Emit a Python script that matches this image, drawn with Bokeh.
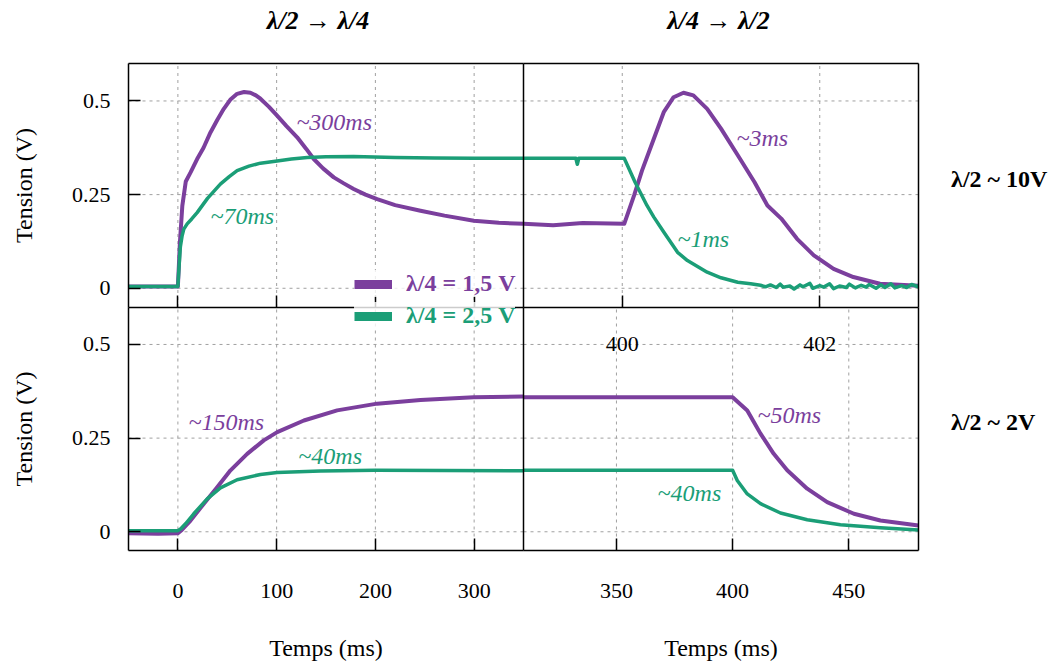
from bokeh.plotting import figure
from bokeh.models import Range1d, LinearAxis, FixedTicker, Label, Legend, LegendItem
from bokeh.embed import file_html
from bokeh.resources import INLINE

# ---------------- data ----------------
# top-left panel  (lambda/2 -> lambda/4, lambda/2 ~ 10 V), time in ms
tl_t_purple = [-50, -10, 0, 1, 2, 4.5, 8, 13, 19.5, 26, 33, 40, 46.5, 53, 60, 67, 73.5,
               79, 83.6, 92, 100.5, 110, 120.8, 130, 137.6, 147, 157.9, 168, 178, 190,
               201.8, 220, 245.7, 270, 299.7, 325, 350]
tl_v_purple = [0.005, 0.005, 0.005, 0.06, 0.12, 0.22, 0.285, 0.31, 0.345, 0.375, 0.416,
               0.45, 0.479, 0.503, 0.519, 0.524, 0.522, 0.515, 0.506, 0.485, 0.461, 0.433,
               0.403, 0.372, 0.345, 0.32, 0.296, 0.28, 0.265, 0.25, 0.238, 0.222, 0.207,
               0.194, 0.18, 0.175, 0.172]
tl_t_green = [-50, 0, 1, 2.5, 4.3, 6, 9.4, 14, 19.5, 30, 43, 52, 60, 72, 83.6, 100.5, 115,
              131, 150, 178, 220, 260, 300, 350]
tl_v_green = [0.005, 0.005, 0.05, 0.11, 0.14, 0.158, 0.172, 0.185, 0.202, 0.24, 0.278,
              0.298, 0.314, 0.326, 0.334, 0.34, 0.345, 0.349, 0.351, 0.352, 0.349, 0.348,
              0.347, 0.347]

# top-right panel (lambda/4 -> lambda/2, lambda/2 ~ 10 V), time in ms
tr_t_purple = [399, 399.3, 399.6, 400.02, 400.12, 400.2, 400.32, 400.42, 400.52, 400.62,
               400.72, 400.86, 401.0, 401.17, 401.34, 401.47, 401.61, 401.77, 401.94,
               402.14, 402.34, 402.61, 403]
tr_v_purple = [0.172, 0.168, 0.174, 0.172, 0.248, 0.314, 0.399, 0.47, 0.51, 0.522, 0.515,
               0.479, 0.426, 0.355, 0.283, 0.221, 0.186, 0.132, 0.088, 0.052, 0.03, 0.012,
               0.007]
tr_t_green = [399, 399.53, 399.545, 399.56, 400.02, 400.13, 400.25, 400.32, 400.42, 400.56,
              400.66, 400.86, 401.0, 401.17, 401.3, 401.4, 401.45, 401.5, 401.56, 401.6,
              401.63, 401.7, 401.74, 401.8, 401.83, 401.9, 401.93, 402.0, 402.04, 402.1,
              402.14, 402.2, 402.27, 402.3, 402.36, 402.42, 402.47, 402.5, 402.57, 402.62,
              402.66, 402.72, 402.76, 402.83, 402.88, 402.93, 403]
tr_v_green = [0.347, 0.347, 0.331, 0.347, 0.347, 0.283, 0.221, 0.19, 0.15, 0.096, 0.074,
              0.043, 0.028, 0.016, 0.012, 0.008, 0.004, 0.009, 0.002, 0.011, 0.003, 0.006,
              -0.002, 0.009, 0.004, 0.013, 0.0, 0.007, 0.003, 0.012, -0.001, 0.006, 0.002,
              0.011, 0.001, 0.008, 0.003, 0.01, 0.0, 0.009, 0.002, 0.012, 0.001, 0.007,
              0.002, 0.01, 0.004]

# bottom-left panel (lambda/2 -> lambda/4, lambda/2 ~ 2 V)
bl_t_purple = [-50, -20, 0, 4, 12.8, 26.3, 39.8, 53.3, 70.2, 87, 100.6, 127.6, 161.3,
               201.8, 245.7, 299.7, 350]
bl_v_purple = [-0.004, -0.005, -0.004, 0.005, 0.03, 0.075, 0.119, 0.164, 0.208, 0.244,
               0.266, 0.297, 0.324, 0.342, 0.352, 0.359, 0.361]
bl_t_green = [-50, 0, 3, 8, 16.1, 29.7, 43.1, 60, 83.6, 100.5, 144.4, 200, 350]
bl_v_green = [0.003, 0.003, 0.008, 0.022, 0.048, 0.088, 0.117, 0.139, 0.153, 0.158,
              0.162, 0.164, 0.163]

# bottom-right panel (lambda/4 -> lambda/2, lambda/2 ~ 2 V)
br_t_purple = [310, 400, 406.3, 412, 417.7, 423.5, 432.1, 440.7, 452.2, 463.6, 480]
br_v_purple = [0.359, 0.359, 0.324, 0.262, 0.208, 0.164, 0.115, 0.079, 0.048, 0.03, 0.017]
br_t_green = [310, 400, 402, 406.3, 412, 420.6, 432.1, 446.4, 463.6, 480]
br_v_green = [0.164, 0.164, 0.137, 0.101, 0.075, 0.05, 0.032, 0.019, 0.011, 0.005]

series_labels = ["λ/4 = 1,5 V", "λ/4 = 2,5 V"]
col_titles = ["λ/2 → λ/4", "λ/4 → λ/2"]
row_titles = ["λ/2 ~ 10V", "λ/2 ~ 2V"]
x_label = "Temps (ms)"
y_label = "Tension (V)"

xl_ticks = [0, 100, 200, 300]
xrt_ticks = [400, 402]
xrb_ticks = [350, 400, 450]
y_ticks = [0, 0.25, 0.5]
y_tick_labels = ["0", "0.25", "0.5"]

# panel data limits
XL = (-50, 350)
XRT = (399, 403)
XRB = (310, 480)
YLIM = (-0.05, 0.6)

# ---------------- layout / style ----------------
W, H = 1063, 664
PX = (128, 523, 918)          # panel edges, px from the left
PY = (114, 357.5, 601)        # panel edges, px from the bottom
PURPLE = "#7b3f9d"
GREEN = "#1b9e77"
GRID = "#a0a0a0"
FONT = "Liberation Serif"


def screen_range(lo, hi, p_lo, p_hi, total):
    """Range whose [lo, hi] occupies pixels [p_lo, p_hi] of a canvas of size total."""
    k = (hi - lo) / (p_hi - p_lo)
    return Range1d(lo - p_lo * k, lo + (total - p_lo) * k)


p = figure(width=W, height=H, x_axis_type=None, y_axis_type=None,
           toolbar_location=None, output_backend="svg",
           x_range=screen_range(XL[0], XL[1], PX[0], PX[1], W),
           y_range=screen_range(YLIM[0], YLIM[1], PY[0], PY[1], H),
           min_border=0, min_border_left=0, min_border_right=0,
           min_border_top=0, min_border_bottom=0)
p.extra_x_ranges = {"rt": screen_range(XRT[0], XRT[1], PX[1], PX[2], W),
                    "rb": screen_range(XRB[0], XRB[1], PX[1], PX[2], W)}
p.extra_y_ranges = {"top": screen_range(YLIM[0], YLIM[1], PY[1], PY[2], H)}
p.outline_line_color = None
p.background_fill_color = "white"
p.border_fill_color = "white"

panels = [  # (x range name, y range name, x limits, x ticks)
    ("default", "top", XL, xl_ticks),
    ("rt", "top", XRT, xrt_ticks),
    ("default", "default", XL, xl_ticks),
    ("rb", "default", XRB, xrb_ticks),
]

# ---------------- dashed grid, panel by panel ----------------
for xr, yr, xlim, xt in panels:
    gv = p.segment(x0=xt, x1=xt, y0=[YLIM[0]] * len(xt), y1=[YLIM[1]] * len(xt),
                   x_range_name=xr, y_range_name=yr,
                   line_color=GRID, line_dash="3 4", line_width=1)
    gh = p.segment(x0=[xlim[0]] * len(y_ticks), x1=[xlim[1]] * len(y_ticks),
                   y0=y_ticks, y1=y_ticks, x_range_name=xr, y_range_name=yr,
                   line_color=GRID, line_dash="3 4", line_width=1)
    gv.level = "underlay"
    gh.level = "underlay"

# ---------------- data lines ----------------
LWP, LWG = 4, 3.5
curves = [
    (tl_t_purple, tl_v_purple, "default", "top", PURPLE, LWP),
    (tl_t_green, tl_v_green, "default", "top", GREEN, LWG),
    (tr_t_purple, tr_v_purple, "rt", "top", PURPLE, LWP),
    (tr_t_green, tr_v_green, "rt", "top", GREEN, LWG),
    (bl_t_purple, bl_v_purple, "default", "default", PURPLE, LWP),
    (bl_t_green, bl_v_green, "default", "default", GREEN, LWG),
    (br_t_purple, br_v_purple, "rb", "default", PURPLE, LWP),
    (br_t_green, br_v_green, "rb", "default", GREEN, LWG),
]
for xs, ys, xr, yr, c, lw in curves:
    p.line(xs, ys, x_range_name=xr, y_range_name=yr, line_color=c, line_width=lw,
           line_join="round")

# ---------------- axes (frame edges, ticks, labels) ----------------
def axis(**kw):
    base = dict(major_tick_in=12, major_tick_out=0, minor_tick_in=0, minor_tick_out=0,
                axis_line_color="black", axis_line_width=1.5,
                major_tick_line_color="black", major_tick_line_width=1.5,
                major_label_text_font=FONT, major_label_text_font_size="22px",
                major_label_text_color="black",
                axis_label_text_font=FONT, axis_label_text_font_size="24px",
                axis_label_text_font_style="normal", axis_label_text_color="black")
    base.update(kw)
    return LinearAxis(**base)

NOTICK = dict(ticker=FixedTicker(ticks=[]), major_label_text_color=None)

# bottom edge of each panel
p.add_layout(axis(ticker=FixedTicker(ticks=xl_ticks), bounds=XL, fixed_location=YLIM[0],
                  major_label_standoff=33, axis_label=x_label, axis_label_standoff=34), "below")
p.add_layout(axis(x_range_name="rb", ticker=FixedTicker(ticks=xrb_ticks), bounds=XRB,
                  fixed_location=YLIM[0], major_label_standoff=33,
                  axis_label=x_label, axis_label_standoff=34), "below")
p.add_layout(axis(y_range_name="top", ticker=FixedTicker(ticks=xl_ticks), bounds=XL,
                  fixed_location=YLIM[0], major_label_text_color=None), "below")
p.add_layout(axis(x_range_name="rt", y_range_name="top", ticker=FixedTicker(ticks=xrt_ticks),
                  bounds=XRT, fixed_location=YLIM[0], major_label_standoff=30), "below")
# top edge of the upper panels
p.add_layout(axis(y_range_name="top", bounds=XL, fixed_location=YLIM[1], **NOTICK), "above")
p.add_layout(axis(x_range_name="rt", y_range_name="top", bounds=XRT,
                  fixed_location=YLIM[1], **NOTICK), "above")
# left edges, with ticks and labels
overrides = dict(zip(y_ticks, y_tick_labels))
for yr in ["top", "default"]:
    p.add_layout(axis(y_range_name=yr, ticker=FixedTicker(ticks=y_ticks), bounds=YLIM,
                      fixed_location=XL[0], major_label_standoff=18,
                      major_label_overrides=overrides,
                      axis_label=y_label, axis_label_standoff=32), "left")
# middle separator and right edge
for xr, yr, xlim in [("rt", "top", XRT), ("rb", "default", XRB)]:
    p.add_layout(axis(x_range_name=xr, y_range_name=yr, bounds=YLIM,
                      fixed_location=xlim[0], **NOTICK), "left")
    p.add_layout(axis(x_range_name=xr, y_range_name=yr, bounds=YLIM,
                      fixed_location=xlim[1], **NOTICK), "right")

# ---------------- texts ----------------
notes = [
    ("~300ms", 120, 0.443, "default", "top", PURPLE),
    ("~70ms", 33, 0.194, "default", "top", GREEN),
    ("~3ms", 401.157, 0.401, "rt", "top", PURPLE),
    ("~1ms", 400.56, 0.132, "rt", "top", GREEN),
    ("~150ms", 10.7, 0.293, "default", "default", PURPLE),
    ("~40ms", 122, 0.202, "default", "default", GREEN),
    ("~50ms", 410.7, 0.312, "rb", "default", PURPLE),
    ("~40ms", 367.7, 0.104, "rb", "default", GREEN),
]
for txt, x, y, xr, yr, c in notes:
    p.add_layout(Label(x=x, y=y, x_range_name=xr, y_range_name=yr, text=txt,
                       text_font=FONT, text_font_style="italic", text_font_size="24px",
                       text_color=c, text_align="left", text_baseline="middle"))

for txt, x, xr in zip(col_titles, [142, 400.975], ["default", "rt"]):
    p.add_layout(Label(x=x, y=0.715, x_range_name=xr, y_range_name="top", text=txt,
                       text_font=FONT, text_font_style="bold italic",
                       text_font_size="26px", text_color="black",
                       text_align="center", text_baseline="middle"))

for txt, yr in zip(row_titles, ["top", "default"]):
    p.add_layout(Label(x=783, y=0.293, y_range_name=yr, text=txt, text_font=FONT,
                       text_font_style="bold", text_font_size="24px", text_color="black",
                       text_align="left", text_baseline="middle"))

# ---------------- legend (two boxes so each label keeps its series colour) ----------------
leg_locs = [(354, 367), (354, 335)]
nan = float("nan")
for lab, c, loc in zip(series_labels, [PURPLE, GREEN], leg_locs):
    r = p.line([nan], [nan], line_color=c, line_width=9)
    leg = Legend(items=[LegendItem(label=lab, renderers=[r])], location=loc,
                 background_fill_color="white", background_fill_alpha=0.8,
                 border_line_color=None, label_text_font=FONT, label_text_font_style="bold",
                 label_text_font_size="24px", label_text_color=c, glyph_width=38,
                 glyph_height=22, label_height=22, label_standoff=14, padding=6,
                 margin=0, spacing=0)
    p.add_layout(leg)

open("out.html", "w").write(file_html(p, INLINE, title="Tension"))
